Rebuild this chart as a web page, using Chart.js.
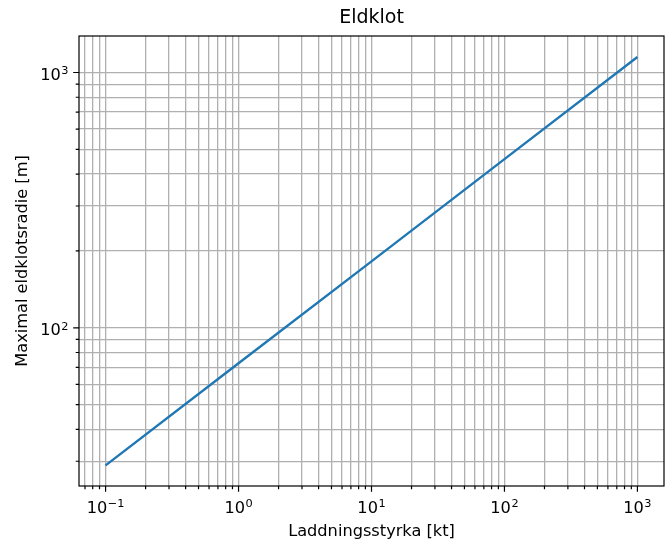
<!DOCTYPE html>
<html><head><meta charset="utf-8">
<script src="https://cdn.jsdelivr.net/npm/chart.js@4/dist/chart.umd.min.js"></script>
<style>html,body{margin:0;padding:0;background:#fff}#wrap{width:667px;height:543px}</style>
</head><body><div id="wrap"><canvas id="c" width="667" height="543"></canvas></div>
<script>
const chartTitle = 'Eldklot';
const xAxisTitle = 'Laddningsstyrka [kt]';
const yAxisTitle = 'Maximal eldklotsradie [m]';
const chargeKt = [0.1, 1, 10, 100, 1000];
const radiusM = [28.9, 72.6, 182, 458, 1150];
const xLimits = [0.0631, 1585];
const yLimits = [24.0, 1390];
const xTickValues = [0.1, 1, 10, 100, 1000];
const xTickLabels = ['10^−1', '10^0', '10^1', '10^2', '10^3'];
const yTickValues = [100, 1000];
const yTickLabels = ['10^2', '10^3'];

const FONT = '"DejaVu Sans", sans-serif';
const FS = 16.2;

function logTicks(scale) {
  const t = [];
  const lo = Math.floor(Math.log10(scale.min)), hi = Math.ceil(Math.log10(scale.max));
  for (let e = lo; e <= hi; e++) {
    for (let m = 1; m < 10; m++) {
      const v = m * Math.pow(10, e);
      if (v >= scale.min * 0.9999 && v <= scale.max * 1.0001) t.push({ value: v, major: m === 1 });
    }
  }
  scale.ticks = t;
}

function drawPow(ctx, label, x, baseline, align) {
  const parts = label.split('^');
  const base = parts[0], exp = parts[1] || '';
  ctx.font = FS + 'px ' + FONT;
  const wb = ctx.measureText(base).width;
  ctx.font = (FS * 0.7) + 'px ' + FONT;
  const we = ctx.measureText(exp).width;
  const total = wb + 0.5 + we;
  let x0 = align === 'center' ? x - total / 2 : x - total;
  ctx.textAlign = 'left';
  ctx.textBaseline = 'alphabetic';
  ctx.font = FS + 'px ' + FONT;
  ctx.fillText(base, x0, baseline);
  ctx.font = (FS * 0.7) + 'px ' + FONT;
  ctx.fillText(exp, x0 + wb + 0.5, baseline - FS * 0.36);
}

const decor = {
  id: 'decor',
  afterDatasetsDraw(chart) {
    const ctx = chart.ctx, ca = chart.chartArea;
    const xs = chart.scales.x, ys = chart.scales.y;
    ctx.save();
    ctx.strokeStyle = '#000';
    ctx.lineWidth = 1.2;
    ctx.beginPath();
    xs.ticks.forEach(t => {
      const p = xs.getPixelForValue(t.value);
      const len = t.major ? 5.8 : 3.3;
      ctx.moveTo(p, ca.bottom); ctx.lineTo(p, ca.bottom + len);
    });
    ys.ticks.forEach(t => {
      const p = ys.getPixelForValue(t.value);
      const len = t.major ? 5.8 : 3.3;
      ctx.moveTo(ca.left, p); ctx.lineTo(ca.left - len, p);
    });
    ctx.stroke();
    ctx.strokeRect(ca.left, ca.top, ca.right - ca.left, ca.bottom - ca.top);
    ctx.fillStyle = '#000';
    // tick labels
    xTickValues.forEach((v, i) => {
      drawPow(ctx, xTickLabels[i], xs.getPixelForValue(v), ca.bottom + 27.3, 'center');
    });
    yTickValues.forEach((v, i) => {
      drawPow(ctx, yTickLabels[i], ca.left - 10.5, ys.getPixelForValue(v) + 7.7, 'right');
    });
    // title
    ctx.font = '19px ' + FONT;
    ctx.textAlign = 'center';
    ctx.textBaseline = 'middle';
    ctx.fillText(chartTitle, (ca.left + ca.right) / 2, 18.5);
    ctx.restore();
  }
};

new Chart(document.getElementById('c'), {
  type: 'scatter',
  data: {
    datasets: [{
      data: chargeKt.map((x, i) => ({ x: x, y: radiusM[i] })),
      showLine: true,
      borderColor: '#1f77b4',
      backgroundColor: '#1f77b4',
      borderWidth: 2.4,
      pointRadius: 0,
      tension: 0,
      clip: false
    }]
  },
  options: {
    responsive: false,
    animation: false,
    devicePixelRatio: 1,
    layout: { padding: { left: 0, right: 3, top: 36, bottom: 0 } },
    plugins: { legend: { display: false }, tooltip: { enabled: false }, title: { display: false } },
    scales: {
      x: {
        type: 'logarithmic',
        min: xLimits[0], max: xLimits[1],
        afterBuildTicks: logTicks,
        afterFit: s => { s.height = 57; },
        border: { display: false },
        grid: { color: '#b0b0b0', lineWidth: 1.3, drawTicks: false },
        ticks: { display: false, autoSkip: false },
        title: { display: true, text: xAxisTitle, color: '#000', font: { family: FONT, size: FS }, padding: { top: 0, bottom: 1.5 } }
      },
      y: {
        type: 'logarithmic',
        min: yLimits[0], max: yLimits[1],
        afterBuildTicks: logTicks,
        afterFit: s => { s.width = 79; },
        border: { display: false },
        grid: { color: '#b0b0b0', lineWidth: 1.3, drawTicks: false },
        ticks: { display: false, autoSkip: false },
        title: { display: true, text: yAxisTitle, color: '#000', font: { family: FONT, size: FS }, padding: { top: 13.3, bottom: 0 } }
      }
    }
  },
  plugins: [decor]
});
</script>
</body></html>
